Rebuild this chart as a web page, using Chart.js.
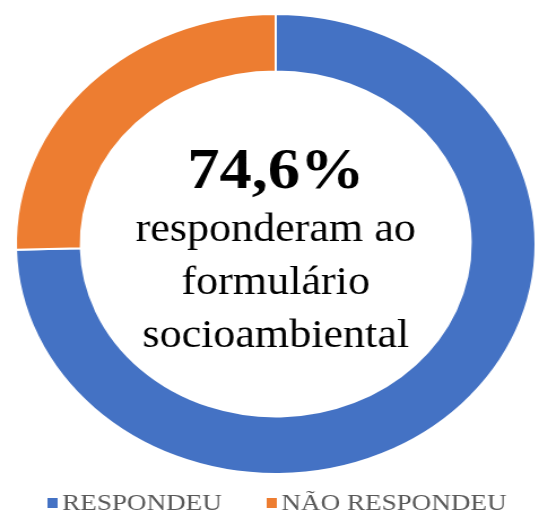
<!DOCTYPE html>
<html>
<head>
<meta charset="utf-8">
<script src="https://cdn.jsdelivr.net/npm/chart.js@4"></script>
<style>
  html, body { margin: 0; padding: 0; background: #ffffff; overflow: hidden; width: 536px; height: 515px; }
  #wrap { position: absolute; left: 0; top: 0; width: 490px; height: 515px; transform: scaleX(1.13); transform-origin: 0 0; }
</style>
</head>
<body>
<div id="wrap"><canvas id="c"></canvas></div>
<script>
const categories = ["RESPONDEU", "NÃO RESPONDEU"];
const values = [74.6, 25.4];
const colors = ["#4472C4", "#ED7D31"];
const centerTitle = "74,6%";
const centerLines = ["responderam ao", "formulário", "socioambiental"];

const overlay = {
  id: "overlay",
  afterDraw(chart) {
    const ctx = chart.ctx;
    const meta = chart.getDatasetMeta(0);
    const arc = meta.data[0];
    const cx = arc.x, cy = arc.y;
    ctx.save();
    ctx.textAlign = "center";
    ctx.textBaseline = "alphabetic";
    ctx.fillStyle = "#000000";
    ctx.font = "bold 57px 'Liberation Serif', 'Times New Roman', serif";
    ctx.fillText(centerTitle, cx, cy - 56);
    ctx.font = "39px 'Liberation Serif', 'Times New Roman', serif";
    const offs = [-3, 50, 103];
    centerLines.forEach((t, i) => ctx.fillText(t, cx, cy + offs[i]));
    // legend
    ctx.textAlign = "left";
    ctx.font = "24px 'Liberation Serif', 'Times New Roman', serif";
    const xs = [42, 236];
    chart.data.labels.forEach((lab, i) => {
      ctx.fillStyle = chart.data.datasets[0].backgroundColor[i];
      ctx.fillRect(xs[i], 498, 9, 10);
      ctx.fillStyle = "#595959";
      ctx.fillText(lab, xs[i] + 13, 510);
    });
    ctx.restore();
  }
};

new Chart(document.getElementById("c"), {
  type: "doughnut",
  data: {
    labels: categories,
    datasets: [{
      data: values,
      backgroundColor: colors,
      borderColor: "#ffffff",
      borderWidth: 2
    }]
  },
  options: {
    responsive: true,
    maintainAspectRatio: false,
    animation: false,
    cutout: "75%",
    layout: { padding: { top: 13, bottom: 40, left: 0, right: 2 } },
    plugins: {
      legend: { display: false },
      tooltip: { enabled: false },
      title: { display: false }
    }
  },
  plugins: [overlay]
});
</script>
</body>
</html>
